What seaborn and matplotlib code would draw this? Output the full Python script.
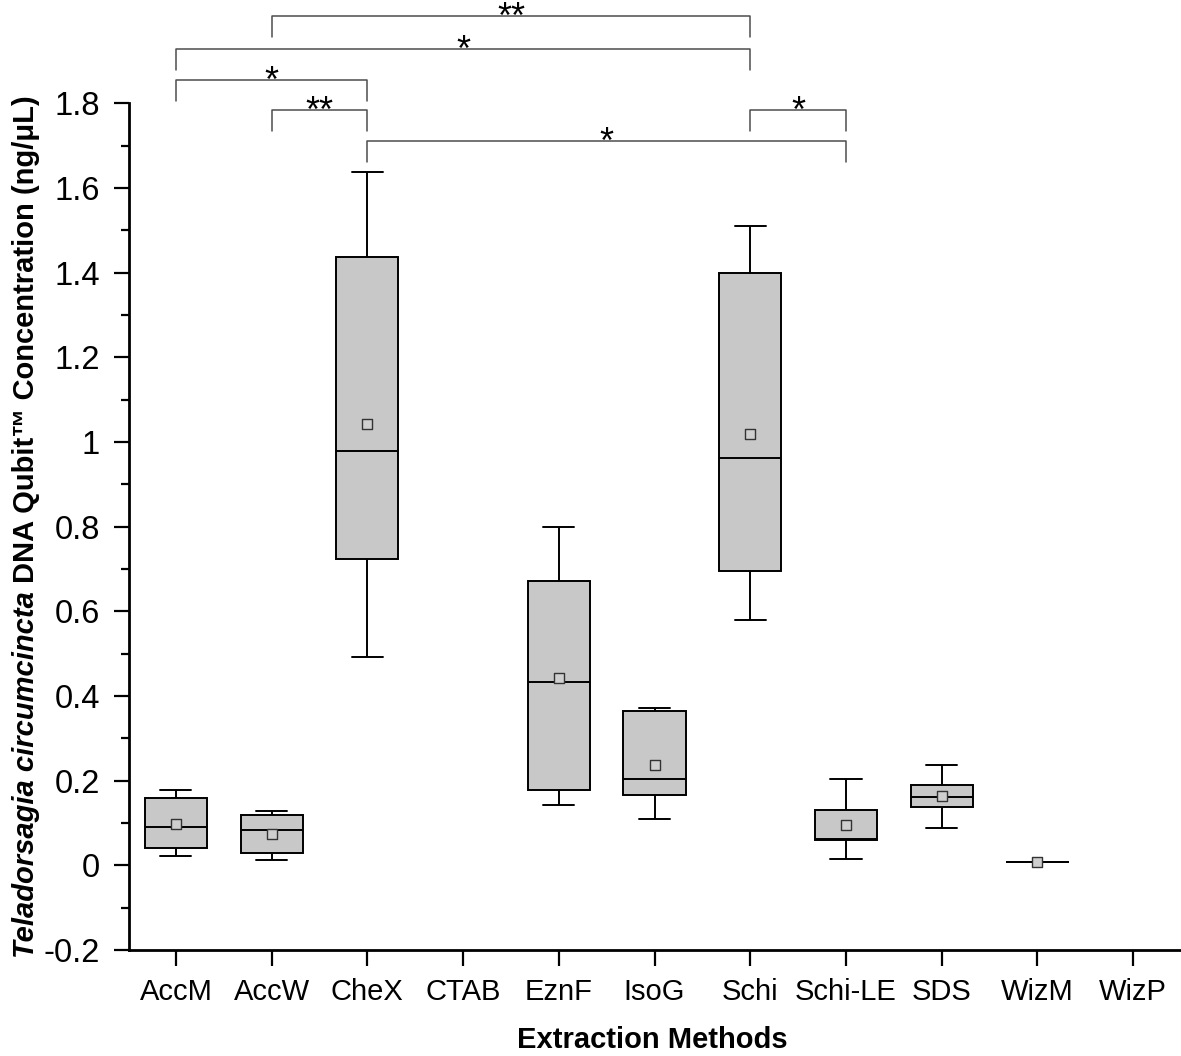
import numpy as np
import pandas as pd
import matplotlib
matplotlib.use("Agg")
import matplotlib.pyplot as plt
from matplotlib.ticker import MultipleLocator, FuncFormatter
import seaborn as sns

# ---------------- data ----------------
categories = ["AccM", "AccW", "CheX", "CTAB", "EznF", "IsoG",
              "Schi", "Schi-LE", "SDS", "WizM", "WizP"]
whisker_low = [0.023, 0.013, 0.493, np.nan, 0.142, 0.109, 0.580, 0.014, 0.087, 0.009, np.nan]
q1          = [0.042, 0.030, 0.724, np.nan, 0.178, 0.167, 0.696, 0.060, 0.137, 0.009, np.nan]
median      = [0.090, 0.083, 0.979, np.nan, 0.432, 0.205, 0.962, 0.062, 0.161, 0.009, np.nan]
q3          = [0.160, 0.120, 1.438, np.nan, 0.672, 0.364, 1.399, 0.131, 0.190, 0.009, np.nan]
whisker_high= [0.178, 0.128, 1.637, np.nan, 0.800, 0.372, 1.509, 0.203, 0.236, 0.009, np.nan]
means       = [0.098, 0.075, 1.042, np.nan, 0.443, 0.237, 1.019, 0.095, 0.164, 0.009, np.nan]

# significance comparisons: (group A, group B, label)
sig_pairs = [("AccW", "Schi", "**"),
             ("AccM", "Schi", "*"),
             ("AccM", "CheX", "*"),
             ("AccW", "CheX", "**"),
             ("Schi", "Schi-LE", "*"),
             ("CheX", "Schi-LE", "*")]

xlabel = "Extraction Methods"
ylabel_italic = "Teladorsagia circumcincta"
ylabel_rest = "DNA Qubit\u2122 Concentration (ng/\u03bcL)"

# ---------------- build long table ----------------
rows = []
for i, c in enumerate(categories):
    vals = [whisker_low[i], q1[i], median[i], q3[i], whisker_high[i]]
    if np.isnan(vals[0]):
        continue
    for v in vals:
        rows.append({"method": c, "value": v})
df = pd.DataFrame(rows)
df_mean = pd.DataFrame({"method": categories, "mean": means}).dropna()

# ---------------- style ----------------
sns.set_style("ticks")
plt.rcParams["font.family"] = ["Liberation Sans", "DejaVu Sans"]
plt.rcParams["axes.unicode_minus"] = False
for k in ["text.color", "axes.labelcolor", "xtick.color", "ytick.color",
          "axes.edgecolor"]:
    plt.rcParams[k] = "black"

W, H = 1181, 1056
fig = plt.figure(figsize=(W / 100, H / 100), dpi=100)
ax = fig.add_axes([129 / W, 1 - 950 / H, 1 - 129 / W, (950 - 103.3) / H])

box_color = "#c8c8c8"
sns.boxplot(data=df, x="method", y="value", order=categories, ax=ax,
            color=box_color, saturation=1, linecolor="black", linewidth=1.4,
            width=0.65, whis=(0, 100), fliersize=0)

sns.stripplot(data=df_mean, x="method", y="mean", order=categories, ax=ax,
              jitter=False, marker="s", size=7, color="#cfcfcf",
              edgecolor="#333333", linewidth=1.0, zorder=5)

ax.set_xlim(-0.49, 10.5)
ax.set_ylim(-0.2, 1.8)
ax.yaxis.set_major_locator(MultipleLocator(0.2))
ax.yaxis.set_minor_locator(MultipleLocator(0.1))
ax.yaxis.set_major_formatter(FuncFormatter(lambda v, p: "%g" % round(v, 1)))

sns.despine(ax=ax)
for s in ["left", "bottom"]:
    ax.spines[s].set_linewidth(2.0)
    ax.spines[s].set_color("black")

ax.tick_params(axis="y", which="major", length=10.8, width=1.6, pad=10,
               labelsize=23.5, color="black", labelcolor="black", direction="out")
ax.tick_params(axis="y", which="minor", length=5.8, width=1.6, color="black",
               direction="out")
ax.tick_params(axis="x", which="major", length=11.5, width=1.6, pad=9,
               labelsize=21, color="black", labelcolor="black", direction="out")

ax.set_xlabel(xlabel, fontsize=21, fontweight="bold", color="black")
ax.xaxis.label.set_va("center")
ax.xaxis.set_label_coords((652 - 129) / (W - 129), -(1040 - 950) / (950 - 103.3))
ax.set_ylabel("")

# ---------------- significance brackets ----------------
levels = [2.006, 1.928, 1.855, 1.784, 1.784, 1.711]
leg = 0.05
for (a, b, lab), yb in zip(sig_pairs, levels):
    xa, xb = categories.index(a), categories.index(b)
    ax.plot([xa, xa, xb, xb], [yb - leg, yb, yb, yb - leg], color="#4d4d4d",
            lw=1.1, clip_on=False, zorder=6)
    ax.annotate(lab, xy=((xa + xb) / 2, yb), xytext=(0, -8.3),
                textcoords="offset points", ha="center", va="baseline",
                fontsize=26, color="black", annotation_clip=False)

# ---------------- y label with mixed styles ----------------
fig.canvas.draw()
r = fig.canvas.get_renderer()
t1 = fig.text(0, 0, ylabel_italic, rotation=90, fontsize=21, fontweight="bold",
              fontstyle="italic", ha="center", va="bottom", color="black")
t2 = fig.text(0, 0, ylabel_rest, rotation=90, fontsize=21, fontweight="bold",
              ha="center", va="bottom", color="black")
h1 = t1.get_window_extent(r).height
h2 = t2.get_window_extent(r).height
gap = 8
total = h1 + gap + h2
yc = H - 526.5
y0 = yc - total / 2
xc = 26 / W
t1.set_position((xc, y0 / H))
t2.set_position((xc, (y0 + h1 + gap) / H))

fig.savefig("out.png", dpi=100)
